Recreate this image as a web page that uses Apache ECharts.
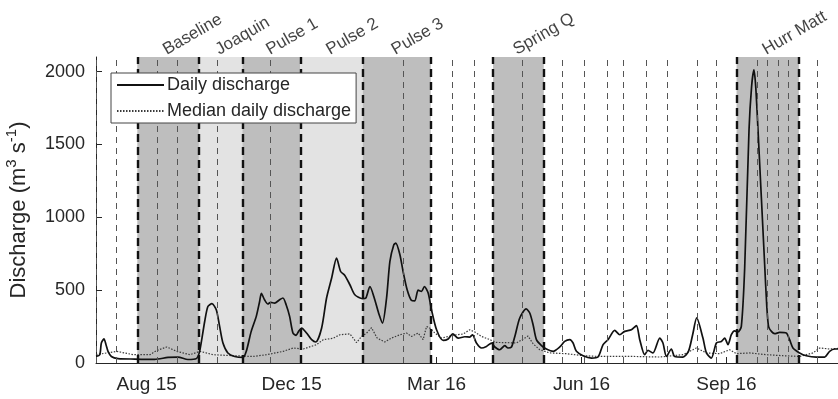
<!DOCTYPE html>
<html>
<head>
<meta charset="utf-8">
<script src="https://cdn.jsdelivr.net/npm/echarts@6/dist/echarts.min.js"></script>
<style>
  html, body { margin: 0; padding: 0; background: #fff; }
  #chart { width: 838px; height: 399px; }
</style>
</head>
<body>
<div id="chart"></div>
<script>
// Time is counted in days from 20 Jul 2015 (left edge of the record).
const flowDays = [0, 2.6, 3.7, 5.5, 6.9, 8.3, 10.6, 15.2, 26.7, 40.5, 49.7, 56.6, 63.4, 69.2, 71.5, 75, 77.2, 80, 83, 85.3,
  87.6, 91, 95.7, 101.4, 103.7, 107.1, 110.6, 112.9, 114.1, 116.3, 118.6, 120.5, 123.2, 126.7, 129, 131.2, 133.6, 135.9, 138.1, 139.8,
  141.9, 145.3, 148.8, 151.7, 155.7, 159.1, 162.6, 166, 168.8, 171.7, 175.2, 178.6, 183.9, 186.2, 189, 191.7, 195.4, 197.7, 200.5, 202.8,
  205.5, 206.9, 209.7, 211.9, 214.7, 217.7, 220, 222.3, 224.6, 226.6, 229.2, 231.5, 235, 239.5, 243, 246.2, 249.9, 254.5, 257.9, 259.8,
  262.5, 266, 269.4, 272.9, 275.2, 278.6, 282.1, 284.3, 286.7, 289, 292.4, 296.8, 299.3, 301.6, 303.9, 307.4, 310.8, 315.4, 320, 323.4,
  326.9, 329.2, 331.5, 336.1, 341.9, 346.4, 349.9, 353.3, 357.9, 361.4, 364.8, 369.4, 372.9, 375.2, 378.6, 380.9, 384.3, 389, 391.2, 393.6,
  397, 399.3, 405, 408.8, 411.7, 414.5, 418.8, 421.2, 424.6, 428.1, 431.5, 433.8, 436.1, 438.4, 440.7, 443, 445.3, 447.6, 450.6, 452.4,
  454, 455.2, 456.8, 461.4, 462.8, 464.1, 466.2, 468.3, 471.7, 476.3, 478.6, 480.9, 485.5, 490.1, 497, 502.8, 506.2, 509.7, 512];
const flowValues = [45, 57, 137, 165, 126, 80, 45, 30, 27, 25, 38, 41, 24, 30, 80, 285, 388, 407, 365, 251,
  137, 69, 45, 38, 80, 217, 320, 422, 478, 434, 405, 416, 411, 434, 446, 400, 320, 206, 190, 217,
  240, 206, 160, 144, 240, 446, 583, 720, 628, 601, 537, 468, 441, 446, 525, 457, 331, 274, 446, 697,
  811, 823, 743, 628, 503, 430, 427, 500, 491, 525, 480, 365, 228, 155, 165, 200, 171, 180, 178, 194,
  137, 103, 114, 137, 110, 91, 119, 103, 110, 182, 309, 372, 343, 263, 160, 119, 96, 80, 110, 148,
  160, 137, 80, 50, 34, 41, 126, 160, 224, 194, 217, 228, 256, 160, 57, 86, 69, 171, 137, 45,
  96, 45, 41, 80, 194, 309, 171, 69, 34, 137, 148, 171, 126, 194, 221, 213, 251, 650, 1600, 1900,
  2012, 1900, 1600, 674, 400, 250, 215, 201, 210, 206, 160, 103, 69, 50, 41, 41, 80, 96, 96];

const medianDays = [0, 7.4, 14.3, 25.7, 37.2, 41.9, 48.8, 55.7, 64.8, 71.7, 80.9, 94.7, 108.5, 117.7, 129.2, 136.1, 143, 152.2, 156.8, 163.7,
  168.3, 175.2, 179.8, 183.2, 186.7, 190.1, 194, 199.3, 203.9, 209.7, 214.3, 217.7, 222.3, 225.7, 228.1, 230.3, 233.8, 238.4, 243, 248.8,
  253.3, 257.9, 261.4, 266, 270.6, 276.3, 283.2, 290.1, 298.1, 301.6, 306.2, 313.1, 324.6, 336.1, 347.6, 370.6, 389, 405, 414.3, 421.2,
  430.3, 437.2, 441.9, 451, 462.6, 474, 485.5, 494.7, 499.3, 506.2, 512];
const medianValues = [57, 69, 80, 57, 57, 86, 110, 80, 57, 80, 57, 50, 45, 57, 80, 103, 96, 126, 160, 170,
  194, 200, 140, 182, 205, 242, 171, 144, 171, 194, 206, 182, 206, 160, 251, 240, 206, 171, 182, 194,
  199, 228, 213, 182, 165, 141, 140, 137, 185, 132, 91, 69, 64, 50, 45, 45, 41, 57, 103, 69,
  64, 91, 64, 69, 57, 50, 45, 69, 103, 96, 100];

const tickDays = [35, 135, 235, 335, 435];
const tickLabels = ['Aug 15', 'Dec 15', 'Mar 16', 'Jun 16', 'Sep 16'];
const yTicks = [0, 500, 1000, 1500, 2000];

const periodNames = ['Baseline', 'Joaquin', 'Pulse 1', 'Pulse 2', 'Pulse 3', 'Spring Q', 'Hurr Matt'];
const periodStart = [28.5, 71, 101, 141, 184, 274, 442];
const periodEnd = [71, 101, 141, 184, 231, 309, 485];
const samplingDays = [0, 14, 42, 56, 84, 120, 212, 246, 261, 294, 322, 337, 353, 364, 380, 394, 415, 428,
  456, 463, 471, 478, 498];

// ---- drawing ----
const X_MAX = 512, Y_MAX = 2100;
const AXIS_COLOR = '#262626';
const lightPeriods = ['Joaquin', 'Pulse 2'];

const pairs = (xs, ys) => xs.map((x, i) => [x, ys[i]]);

const shadeAreas = periodNames.map((n, i) => [
  { xAxis: periodStart[i], itemStyle: { color: lightPeriods.includes(n) ? '#e3e3e3' : '#bebebe' } },
  { xAxis: periodEnd[i] }
]);

const boundaryDays = Array.from(new Set(periodStart.concat(periodEnd)));
const thickLines = boundaryDays.map(d => ({ xAxis: d }));
const thinLines = samplingDays.map(d => ({ xAxis: d }));

const chart = echarts.init(document.getElementById('chart'), null, { renderer: 'canvas' });

const labelFont = 'Liberation Sans, Arial, Helvetica, sans-serif';

chart.setOption({
  animation: false,
  textStyle: { fontFamily: labelFont },
  grid: { left: 96, right: 0, top: 57, bottom: 36, containLabel: false, outerBoundsMode: 'none' },
  xAxis: {
    type: 'value',
    min: 0,
    max: X_MAX,
    splitLine: { show: false },
    axisLine: { show: true, lineStyle: { color: AXIS_COLOR, width: 1 } },
    axisTick: { show: true, inside: true, length: 6, customValues: tickDays, lineStyle: { color: AXIS_COLOR } },
    axisLabel: {
      customValues: tickDays,
      formatter: v => tickLabels[tickDays.indexOf(v)] || '',
      color: AXIS_COLOR, fontSize: 19, margin: 12, fontFamily: labelFont
    }
  },
  yAxis: {
    type: 'value',
    min: 0,
    max: Y_MAX,
    splitLine: { show: false },
    axisLine: { show: true, lineStyle: { color: AXIS_COLOR, width: 1 } },
    axisTick: { show: true, inside: true, length: 6, customValues: yTicks, lineStyle: { color: AXIS_COLOR } },
    axisLabel: {
      customValues: yTicks, formatter: v => String(v),
      color: AXIS_COLOR, fontSize: 18, margin: 11, fontFamily: labelFont
    },
    name: 'Discharge (m{sup|3} s{sup|-1})',
    nameLocation: 'middle',
    nameRotate: 90,
    nameGap: 55,
    nameTextStyle: {
      color: AXIS_COLOR, fontSize: 22, fontFamily: labelFont, lineHeight: 30,
      rich: { sup: { fontSize: 15, fontFamily: labelFont, color: AXIS_COLOR, verticalAlign: 'top', lineHeight: 16 } }
    }
  },
  legend: {
    data: ['Daily discharge', 'Median daily discharge'],
    orient: 'vertical',
    left: 111,
    top: 73,
    z: 20,
    itemWidth: 47,
    itemHeight: 18,
    itemGap: 8,
    padding: [3, 5, 3, 5],
    backgroundColor: '#fff',
    borderColor: '#444',
    borderWidth: 1,
    borderRadius: 0,
    itemStyle: { opacity: 0 },
    textStyle: { fontSize: 18, color: AXIS_COLOR, fontFamily: labelFont, padding: [0, 0, 0, -2] },
    selectedMode: false
  },
  series: [
    {
      name: 'periods',
      type: 'line',
      data: [],
      silent: true,
      z: 1,
      markArea: { silent: true, data: shadeAreas, label: { show: false } }
    },
    {
      name: 'Median daily discharge',
      type: 'line',
      data: pairs(medianDays, medianValues),
      symbol: 'none',
      z: 3,
      color: '#3a3a3a',
      lineStyle: { color: '#3a3a3a', width: 1.2, type: [1.5, 1.5] }
    },
    {
      name: 'Daily discharge',
      type: 'line',
      data: pairs(flowDays, flowValues),
      symbol: 'none',
      smooth: 0.25,
      z: 4,
      color: '#111',
      lineStyle: { color: '#111', width: 1.7 }
    },
    {
      name: 'sampling',
      type: 'line',
      data: [],
      silent: true,
      z: 5,
      markLine: {
        silent: true, symbol: ['none', 'none'], label: { show: false },
        lineStyle: { color: '#555', width: 1, type: [6, 5] },
        data: thinLines
      }
    },
    {
      name: 'boundaries',
      type: 'line',
      data: [],
      silent: true,
      z: 6,
      markLine: {
        silent: true, symbol: ['none', 'none'], label: { show: false },
        lineStyle: { color: '#111', width: 2.4, type: [8, 5] },
        data: thickLines
      }
    },
    {
      name: 'period names',
      type: 'scatter',
      silent: true,
      symbolSize: 1,
      itemStyle: { color: 'rgba(0,0,0,0)' },
      z: 7,
      data: periodNames.map((n, i) => ({ name: n, value: [(periodStart[i] + periodEnd[i]) / 2, Y_MAX] })),
      label: {
        show: true,
        formatter: '{b}',
        position: [0, 0],
        align: 'left',
        verticalAlign: 'bottom',
        rotate: 30,
        offset: [0, 2],
        fontSize: 17,
        color: '#111',
        fontFamily: labelFont
      }
    }
  ]
});
</script>
</body>
</html>
